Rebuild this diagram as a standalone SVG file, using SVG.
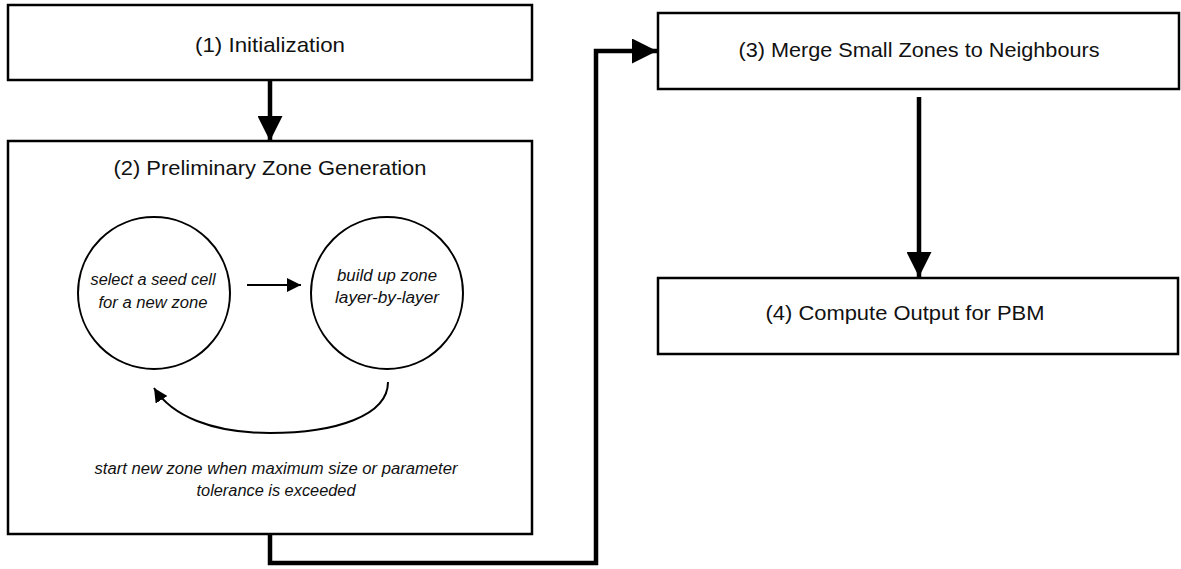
<svg xmlns="http://www.w3.org/2000/svg" width="1181" height="569" viewBox="0 0 1181 569">
<style>
.box{fill:#fff;stroke:#000;stroke-width:2.5}
.circ{fill:#fff;stroke:#000;stroke-width:2}
.t{font-family:"Liberation Sans",Arial,sans-serif;font-size:21px;fill:#111;text-anchor:middle}
.it{font-family:"Liberation Sans",Arial,sans-serif;font-size:16px;font-style:italic;fill:#111;text-anchor:middle}
.thick{fill:none;stroke:#000;stroke-width:4.5}
.thin{fill:none;stroke:#000;stroke-width:2}
</style>
<defs>
<marker id="big" viewBox="0 0 10 10" refX="10" refY="5" markerWidth="25" markerHeight="25" markerUnits="userSpaceOnUse" orient="auto">
<path d="M0,0 L10,5 L0,10 Z" fill="#000"/>
</marker>
<marker id="small" viewBox="0 0 10 10" refX="10" refY="5" markerWidth="14" markerHeight="14" markerUnits="userSpaceOnUse" orient="auto">
<path d="M0,0 L10,5 L0,10 Z" fill="#000"/>
</marker>
</defs>
<rect width="1181" height="569" fill="#fff"/>
<g id="n1">
<rect class="box" x="8" y="5" width="524" height="75"/>
<text class="t" x="270" y="52" textLength="150" lengthAdjust="spacingAndGlyphs">(1) Initialization</text>
</g>
<g id="n2">
<rect class="box" x="8" y="141" width="524" height="393"/>
<text class="t" x="270" y="175" textLength="313" lengthAdjust="spacingAndGlyphs">(2) Preliminary Zone Generation</text>
<text class="it" x="276" y="474" textLength="363" lengthAdjust="spacingAndGlyphs">start new zone when maximum size or parameter</text>
<text class="it" x="276" y="496" textLength="159" lengthAdjust="spacingAndGlyphs">tolerance is exceeded</text>
</g>
<g id="c1">
<circle class="circ" cx="154" cy="293" r="76"/>
<text class="it" x="153" y="285" textLength="125" lengthAdjust="spacingAndGlyphs">select a seed cell</text>
<text class="it" x="153" y="308" textLength="109" lengthAdjust="spacingAndGlyphs">for a new zone</text>
</g>
<g id="c2">
<circle class="circ" cx="387" cy="293" r="76"/>
<text class="it" x="387" y="281" textLength="100" lengthAdjust="spacingAndGlyphs">build up zone</text>
<text class="it" x="387" y="303" textLength="104" lengthAdjust="spacingAndGlyphs">layer-by-layer</text>
</g>
<g id="n3">
<rect class="box" x="658" y="13" width="521" height="76"/>
<text class="t" x="919" y="57" textLength="361" lengthAdjust="spacingAndGlyphs">(3) Merge Small Zones to Neighbours</text>
</g>
<g id="n4">
<rect class="box" x="658" y="278" width="520" height="76"/>
<text class="t" x="905" y="320" textLength="279" lengthAdjust="spacingAndGlyphs">(4) Compute Output for PBM</text>
</g>
<g id="connectors">
<path class="thick" d="M270,80 L270,141" marker-end="url(#big)"/>
<path class="thick" d="M919,97 L919,277" marker-end="url(#big)"/>
<path class="thick" d="M270,534 L270,563 L596,563 L596,51 L657,51" marker-end="url(#big)"/>
<path class="thin" d="M247,285 L301,285" marker-end="url(#small)"/>
<path class="thin" d="M388,382 C388,416 335,433 270,433 C212,433 172,416 154,388" marker-end="url(#small)"/>
</g>
</svg>
